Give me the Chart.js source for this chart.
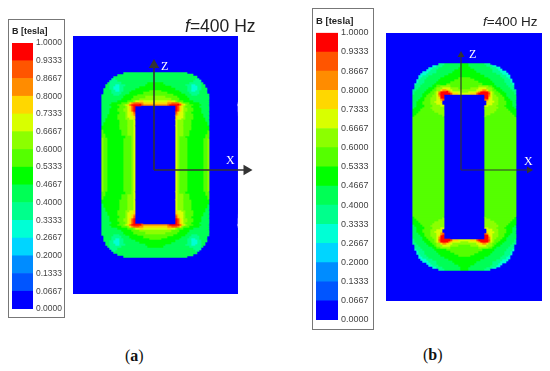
<!DOCTYPE html>
<html>
<head>
<meta charset="utf-8">
<title>Flux density</title>
<script src="https://cdn.jsdelivr.net/npm/chart.js@4"></script>
<style>
body { margin: 0; background: #fff; }
#page { position: relative; width: 550px; height: 371px; overflow: hidden; font-family: "Liberation Sans", sans-serif; }
canvas { position: absolute; }
.legendBox { outline: 1.5px solid #777; outline-offset: -1.5px; }
.field { filter: blur(0.7px); }
.txt { position: absolute; white-space: nowrap; line-height: 1; }
.axisName { font-family: "Liberation Serif", serif; color: #fff; font-size: 12px; }
.freq { color: #222; }
.sub { font-family: "Liberation Serif", serif; font-size: 16px; color: #111; }
</style>
</head>
<body>
<div id="page">
    <canvas id="legendA" class="legendBox" width="57" height="299" style="left:8px;top:19px"></canvas>
    <canvas id="fieldA" class="field" width="187" height="258" style="left:73px;top:36px"></canvas>
    <canvas id="legendB" class="legendBox" width="62" height="322" style="left:312px;top:8px"></canvas>
    <canvas id="fieldB" class="field" width="156" height="268" style="left:386px;top:33px"></canvas>
    <div class="txt freq" style="left:185px;top:18px;font-size:17.5px"><i>f</i>=400 Hz</div>
    <div class="txt freq" style="left:483px;top:15px;font-size:13.5px"><i>f</i>=400 Hz</div>
    <div class="txt axisName" style="left:161px;top:60px">Z</div>
    <div class="txt axisName" style="left:226px;top:154px">X</div>
    <div class="txt axisName" style="left:469px;top:48px">Z</div>
    <div class="txt axisName" style="left:524px;top:155px">X</div>
    <div class="txt sub" style="left:125px;top:348px">(<b>a</b>)</div>
    <div class="txt sub" style="left:423px;top:347px">(<b>b</b>)</div>
</div>
<script>
// B bands, lowest first
var levelColors = ['#0000ff', '#0055ff', '#008cff', '#00d5ff', '#00ffd5', '#00ff8c', '#00ff55', '#00ff00',
    '#55ff00', '#8cff00', '#d8ff00', '#ffd700', '#ff8c00', '#ff5500', '#ff0000'];
var bandWidths = [0.0667, 0.0666, 0.0667, 0.0667, 0.0666, 0.0667, 0.0667, 0.0666, 0.0667, 0.0667, 0.0666, 0.0667, 0.0667, 0.0666, 0.0667];
var tickValues = [0, 0.0667, 0.1333, 0.2, 0.2667, 0.3333, 0.4, 0.4667, 0.5333, 0.6, 0.6667, 0.7333, 0.8, 0.8667, 0.9333, 1];

// upper left quarter of the core, one char per 2x2 cell, hex digit = band number.
// a row is filled up to the core centre with its last char
var coreRowsA = [
    "000000000006",
    "000000006",
    "0000006",
    "000005566666",
    "000055556",
    "0006555555666666666666677",
    "0066555445556666666666777",
    "0066554445566666666777777",
    "0666554445566666677777777",
    "0666655445566667777777778",
    "0666655555666677777778888",
    "66666655566677777788888888",
    "666666666667777788888899",
    "6666666666777778888999999",
    "66666666777778889aabbaaa",
    "66666777778889bcdddccb",
    "666677778889abdeeeeedcc",
    "6666677778889abde0",
    "6666777788899abde0",
    "6666777788899abde0",
    "6666777778889aabd0",
    "6667777788889aabc0",
    "6667777788889aaab0",
    "66777777888899aab0",
    "6677777778888999a0",
    "6777777778888999a0",
    "6777777778888999a0",
    "7777777778888999a0",
    "7777777778888999a0",
    "8777777777888999a0",
    "8777777777888999a0",
    "8877777777888999a0",
    "8877777777778889a0",
    "9887777777788889a0",
    "9887777777788889a0",
    "9887777777788889a0",
    "9887777777788889a0",
    "9887777777788889a0",
    "9887777777788889a0",
    "9887777777788889a0",
    "9887777777788889a0",
    "9887777777788889a0",
    "9887777777788889a0",
    "9887777777788889a0",
    "9887777777788889a0",
    "9887777777788889a0",
    "9887777777788889a0"
];
var coreRowsB = [
    "00000000000005556666666677",
    "00000000004455566666666677",
    "00000000445556666666666777",
    "00000004455566666666677777",
    "00000444555566666666777777",
    "00004445556666666677777777",
    "00044555666666667777777777",
    "00045556666666777777777888",
    "00455566666667777777788888",
    "00455566666677777778888888",
    "04555666666777777888888888",
    "05556666667788999998888888",
    "05566666777899" + "9aaaa9999888",
    "55666667778899bccbaa999999",
    "566666777889aceeeecbaaaa99",
    "566667778889adeeeeedbbbaaa",
    "666667788899acee0",
    "666677888999abee0",
    "666777888999aacd0",
    "66777888899aaab0",
    "667778888999aaa0",
    "66777788889999aa0",
    "67777888899999990",
    "77778888889999990",
    "77788888888999990",
    "77888888888889990",
    "78888888888888890",
    "88888888888888880",
    "88888888888888880",
    "88888888888888880",
    "88888888888888880",
    "88888888888888880",
    "88888888888888880",
    "88888888888888880",
    "88888888888888880",
    "88888888888888880",
    "88888888888888880",
    "88888888888888880",
    "88888888888888880",
    "88888888888888880",
    "88888888888888880",
    "88888888888888880",
    "88888888888888880",
    "88888888888888880",
    "88888888888888880",
    "88888888888888880",
    "88888888888888880",
    "88888888888888880",
    "88888888888888880",
    "88888888888888880",
    "88888888888888880",
    "88888888888888880"
];

// x and z axis ends of the two plots
var zAxisA = [{ x: 81, y: -5 }, { x: 81, y: 100 }];
var xAxisA = [{ x: 81, y: -5 }, { x: 173.5, y: -5 }];
var zAxisB = [{ x: 75, y: -3 }, { x: 75, y: 112 }];
var xAxisB = [{ x: 75, y: -3 }, { x: 143, y: -3 }];

function drawLegend(id, title, fontSize, pad, axisW) {
    var datasets = bandWidths.map(function (w, i) {
        return { data: [w], backgroundColor: levelColors[i], barPercentage: 1, categoryPercentage: 1 };
    });
    new Chart(document.getElementById(id), {
        type: 'bar',
        data: { labels: ['B'], datasets: datasets },
        options: {
            responsive: false,
            animation: false,
            layout: { autoPadding: false, padding: { left: pad.left, bottom: pad.bottom, top: 0, right: 0 } },
            plugins: {
                legend: { display: false },
                tooltip: { enabled: false },
                title: {
                    display: true, text: title, align: 'start', color: '#222',
                    font: { family: 'Liberation Sans', size: fontSize + 0.5, weight: 'bold' },
                    padding: { top: pad.titleTop, bottom: pad.titleBottom }
                }
            },
            scales: {
                x: { stacked: true, display: false },
                y: {
                    stacked: true, position: 'right', min: 0, max: 1,
                    grid: { display: false, drawTicks: false }, border: { display: false },
                    afterBuildTicks: function (scale) {
                        scale.ticks = tickValues.map(function (v) { return { value: v }; });
                    },
                    afterFit: function (scale) { scale.width = axisW; },
                    ticks: {
                        padding: 3, color: '#444', autoSkip: false,
                        font: { family: 'Liberation Sans', size: fontSize },
                        callback: function (v) { return v.toFixed(4); }
                    }
                }
            }
        }
    });
}

function drawField(id, coreRows, marginCols, coreCols, marginRows, oddRows, zAxis, xAxis, extraX, arrow) {
    // whole rows from the stored quarter
    var half = [];
    var i;
    for (i = 0; i < marginRows; i++) half.push('0'.repeat(marginCols + coreCols));
    coreRows.forEach(function (r) {
        half.push('0'.repeat(marginCols) + r.padEnd(coreCols, r.charAt(r.length - 1)).slice(0, coreCols));
    });
    var lower = half.slice(0, oddRows ? half.length - 1 : half.length).reverse();
    var rows = half.concat(lower).map(function (r) { return r + r.split('').reverse().join(''); });

    // run lengths per row, one stacked bar dataset per run
    var runs = rows.map(function (r) {
        var out = [];
        for (var c = 0; c < r.length; c++) {
            var lvl = parseInt(r.charAt(c), 16);
            if (out.length && out[out.length - 1].lvl === lvl) out[out.length - 1].w += 2;
            else out.push({ lvl: lvl, w: 2 });
        }
        return out;
    });
    var maxRuns = Math.max.apply(null, runs.map(function (r) { return r.length; }));
    var datasets = [];
    for (i = 0; i < maxRuns; i++) {
        datasets.push({
            type: 'bar', indexAxis: 'y', xAxisID: 'x', yAxisID: 'y',
            barPercentage: 1, categoryPercentage: 1, order: 2,
            data: runs.map(function (r) { return r[i] ? r[i].w : 0; }),
            backgroundColor: runs.map(function (r) { return r[i] ? levelColors[r[i].lvl] : levelColors[0]; })
        });
    }
    [[zAxis, 0], [xAxis, 90]].forEach(function (a) {
        datasets.push({
            type: 'line', xAxisID: 'x', yAxisID: 'yz', data: a[0], clip: false, order: 1,
            borderColor: '#333', borderWidth: arrow.line, backgroundColor: '#333',
            pointStyle: 'triangle', pointRotation: a[1], pointBorderWidth: 0,
            pointRadius: [0, arrow.r]
        });
    });
    // the x scale runs on past the field so the X arrow head still gets drawn
    var w = (marginCols + coreCols) * 4 + extraX;
    var h = rows.length;
    new Chart(document.getElementById(id), {
        type: 'bar',
        data: { labels: rows.map(function (r, n) { return n; }), datasets: datasets },
        options: {
            responsive: false,
            animation: false,
            layout: { autoPadding: false },
            plugins: { legend: { display: false }, tooltip: { enabled: false }, title: { display: false } },
            scales: {
                x: { type: 'linear', stacked: true, display: false, min: 0, max: w, offset: false },
                y: { type: 'category', stacked: true, display: false },
                yz: { type: 'linear', axis: 'y', display: false, min: -h, max: h }
            }
        }
    });
}

drawLegend('legendA', 'B [tesla]', 8.5, { left: 4, bottom: 9, titleTop: 7, titleBottom: 6.2 }, 32);
drawLegend('legendB', 'B [tesla]', 9, { left: 4, bottom: 10, titleTop: 8, titleBottom: 5.4 }, 36);
drawField('fieldA', coreRowsA, 14, 27, 18, true, zAxisA, xAxisA, 23, { line: 1.6, r: 6 });
drawField('fieldB', coreRowsB, 13, 26, 15, false, zAxisB, xAxisB, 0, { line: 1.2, r: 4 });
</script>
</body>
</html>
